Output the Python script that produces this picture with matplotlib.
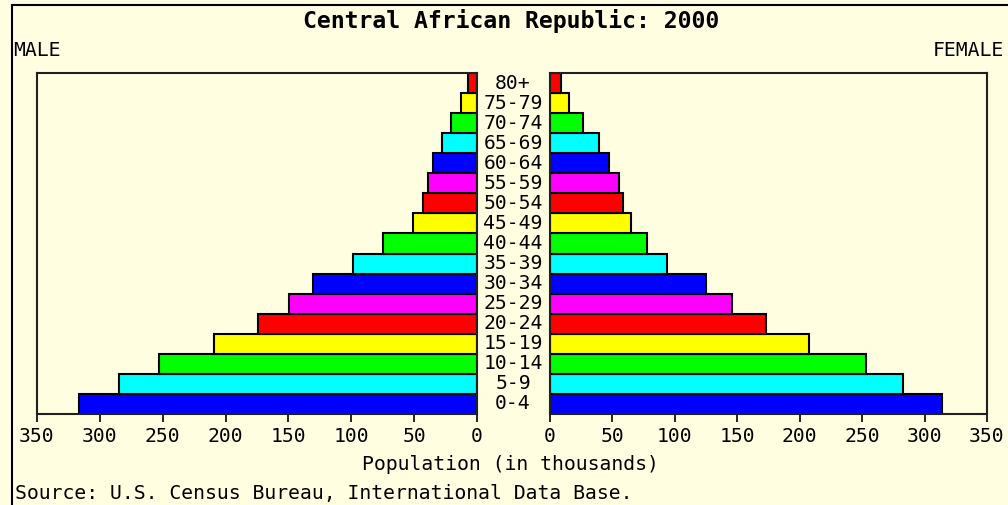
import matplotlib
matplotlib.use("Agg")
import matplotlib.pyplot as plt
from matplotlib.patches import Rectangle
from matplotlib.transforms import blended_transform_factory

# Age groups, youngest first
age_groups = ["0-4", "5-9", "10-14", "15-19", "20-24", "25-29", "30-34",
              "35-39", "40-44", "45-49", "50-54", "55-59", "60-64",
              "65-69", "70-74", "75-79", "80+"]
# Population in thousands
male = [316.8, 284.5, 252.7, 209.5, 174.5, 149.3, 130.2, 98.4, 74.5,
        50.7, 42.7, 39.2, 35.0, 28.1, 20.7, 12.5, 7.4]
female = [313.8, 283.0, 252.9, 207.8, 172.9, 145.7, 124.9, 94.1, 78.0,
          65.1, 58.9, 55.5, 47.7, 39.5, 26.9, 15.4, 9.0]
tick_values = [0, 50, 100, 150, 200, 250, 300, 350]

palette = ["#0000FF", "#00FFFF", "#00FF00", "#FFFF00", "#FF0000", "#FF00FF"]
bar_colors = [palette[i % len(palette)] for i in range(len(age_groups))]

BG = "#FFFEE0"
MONO = "DejaVu Sans Mono"
FS = 14.2
W, H = 1008, 505

fig = plt.figure(figsize=(W / 100, H / 100), dpi=100, facecolor=BG)

def fig_rect(x0, y0, x1, y1):
    return [x0 / W, 1 - y1 / H, (x1 - x0) / W, (y1 - y0) / H]

# Outer frame line (top and left edges)
fig.patches.append(Rectangle((12 / W, -0.1), 1.2, 1 - 5 / H + 0.1,
                             transform=fig.transFigure, fill=False,
                             edgecolor="#000000", linewidth=1.5))

axL = fig.add_axes(fig_rect(37, 73, 477, 414))
axR = fig.add_axes(fig_rect(549.5, 73, 987, 414))

ypos = list(range(len(age_groups)))
axL.barh(ypos, male, height=1.0, color=bar_colors, edgecolor="black",
         linewidth=1.5)
axR.barh(ypos, female, height=1.0, color=bar_colors, edgecolor="black",
         linewidth=1.5)

axL.set_xlim(350, 0)
axR.set_xlim(0, 350)
for ax in (axL, axR):
    ax.set_facecolor(BG)
    ax.set_ylim(-0.5, len(age_groups) - 0.5)
    ax.set_yticks([])
    ax.set_xticks(tick_values)
    ax.set_xticklabels([str(v) for v in tick_values], fontfamily=MONO,
                       fontsize=FS)
    ax.tick_params(axis="x", direction="out", length=6, width=1.2,
                   pad=3.5, colors="#000000")
    for sp in ax.spines.values():
        sp.set_linewidth(1.5)
        sp.set_color("#202020")

# Age group labels between the two panels
tr = blended_transform_factory(fig.transFigure, axL.transData)
for y, lab in zip(ypos, age_groups):
    fig.text(513 / W, y, lab, transform=tr, ha="center", va="center",
             fontfamily=MONO, fontsize=FS)

fig.text(511 / W, 1 - 21 / H, "Central African Republic: 2000",
         ha="center", va="center", fontfamily=MONO, fontweight="bold",
         fontsize=16.7)
fig.text(13 / W, 1 - 51 / H, "MALE", ha="left", va="center",
         fontfamily=MONO, fontsize=FS)
fig.text(1004 / W, 1 - 51 / H, "FEMALE", ha="right", va="center",
         fontfamily=MONO, fontsize=FS)
fig.text(510 / W, 1 - 465 / H, "Population (in thousands)", ha="center",
         va="center", fontfamily=MONO, fontsize=FS)
fig.text(15 / W, 1 - 493 / H,
         "Source: U.S. Census Bureau, International Data Base.",
         ha="left", va="center", fontfamily=MONO, fontsize=FS)

fig.savefig("out.png", dpi=100, facecolor=BG)
